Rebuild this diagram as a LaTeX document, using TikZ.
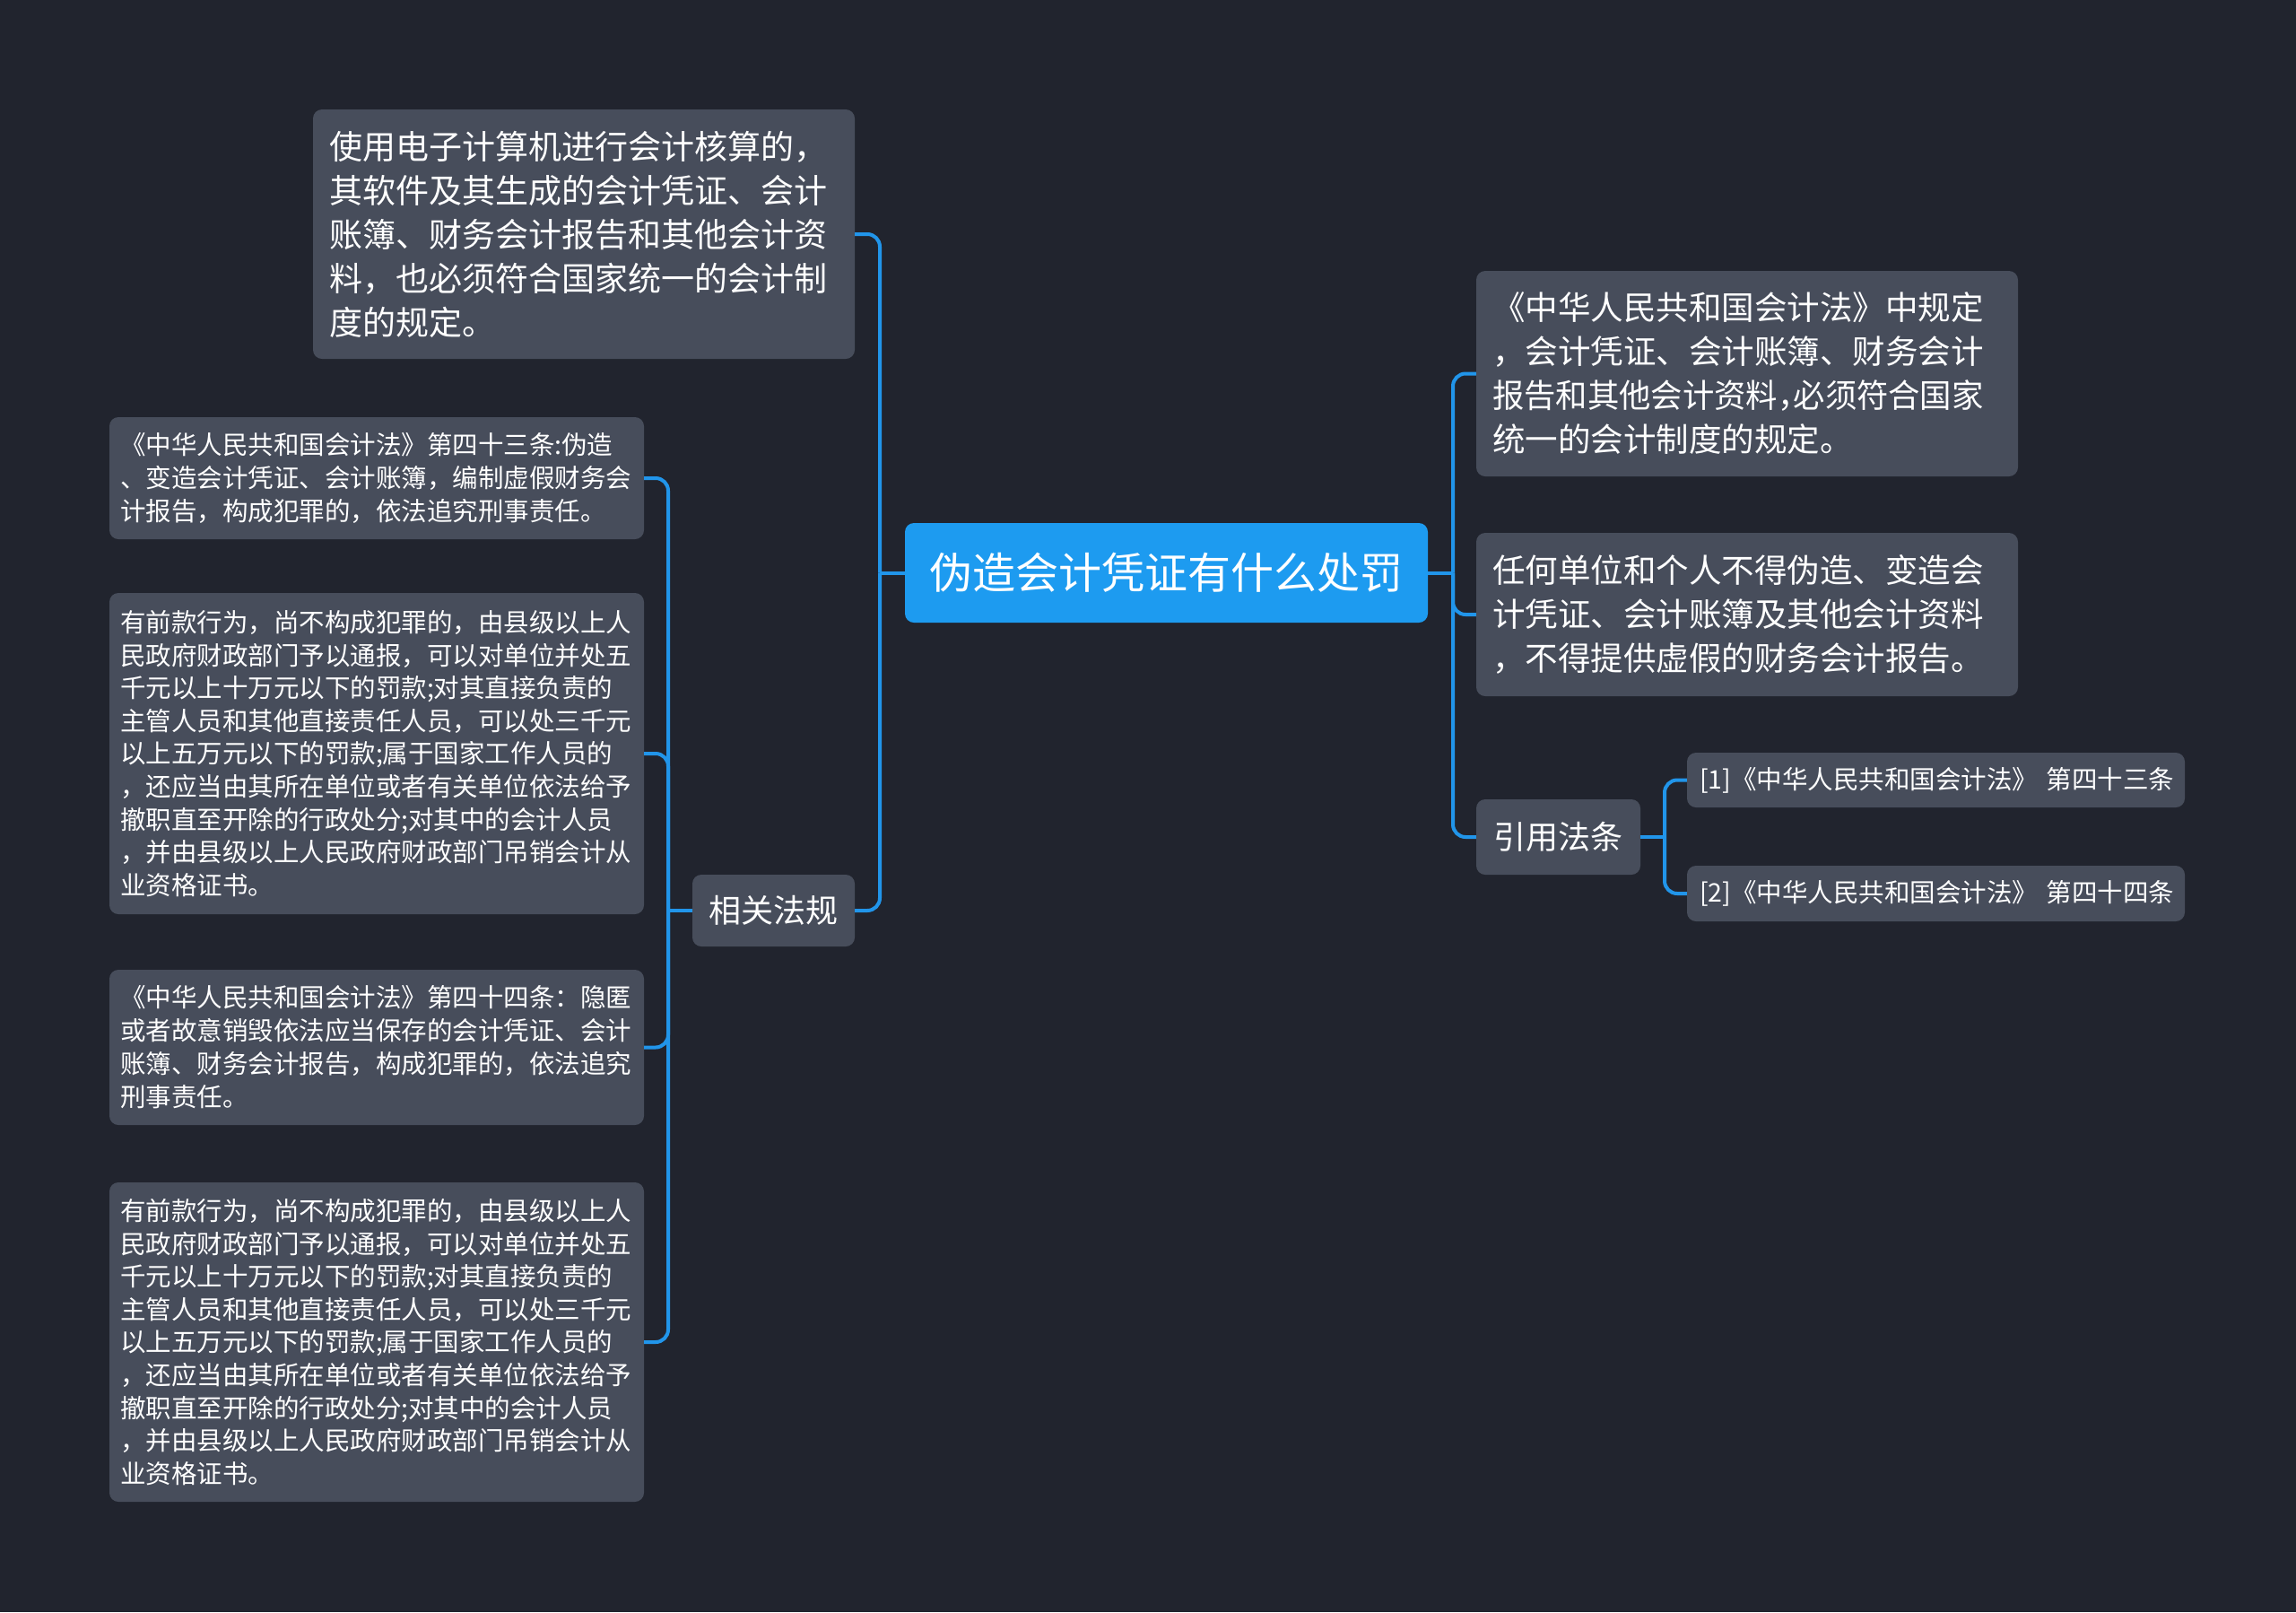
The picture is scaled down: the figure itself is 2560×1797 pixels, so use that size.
\documentclass[tikz,border=0pt]{standalone}
\usepackage{fontspec}
\usepackage{graphicx}
\setmainfont{Noto Sans CJK SC}
\definecolor{bgc}{HTML}{21242E}
\definecolor{boxc}{HTML}{474D5B}
\definecolor{rootc}{HTML}{1D9BF0}
\definecolor{linec}{HTML}{2195EA}
\newcommand{\halfcomma}{\makebox[0.5em][l]{，}}
\begin{document}
\begin{tikzpicture}[x=1pt,y=-1pt,
  box/.style={fill=boxc, rounded corners=10pt, text=white, align=left, inner ysep=0pt, anchor=center},
  rootbox/.style={fill=rootc, rounded corners=10pt, text=white, align=center, inner sep=0pt, anchor=center},
  conn/.style={draw=linec, line width=4pt, rounded corners=14pt}]
\useasboundingbox[fill=bgc] (0,0) rectangle (2560,1797);

% root
\node[rootbox, minimum width=583pt, minimum height=111pt, font=\fontsize{48}{56}\selectfont] (root) at (1300.5,638.5) {伪造会计凭证有什么处罚};

% left side
\node[box, minimum width=604pt, minimum height=278pt, inner xsep=18pt, text width=568pt, font=\fontsize{37}{49}\selectfont] (L0) at (651,261)
{使用电子计算机进行会计核算的，\\其软件及其生成的会计凭证、会计\\账簿、财务会计报告和其他会计资\\料，也必须符合国家统一的会计制\\度的规定。};

\node[box, minimum width=181pt, minimum height=80pt, inner xsep=0pt, align=center, font=\fontsize{36}{44}\selectfont] (XG) at (862.5,1015) {相关法规};

\node[box, minimum width=596pt, minimum height=136pt, inner xsep=12pt, text width=572pt, font=\fontsize{28.5}{37}\selectfont] (LC1) at (420,533)
{《中华人民共和国会计法》第四十三条:伪造\\、变造会计凭证、会计账簿，编制虚假财务会\\计报告，构成犯罪的，依法追究刑事责任。};

\node[box, minimum width=596pt, minimum height=358pt, inner xsep=12pt, text width=572pt, font=\fontsize{28.5}{36.6}\selectfont] (LC2) at (420,840)
{有前款行为，尚不构成犯罪的，由县级以上人\\民政府财政部门予以通报，可以对单位并处五\\千元以上十万元以下的罚款;对其直接负责的\\主管人员和其他直接责任人员，可以处三千元\\以上五万元以下的罚款;属于国家工作人员的\\，还应当由其所在单位或者有关单位依法给予\\撤职直至开除的行政处分;对其中的会计人员\\，并由县级以上人民政府财政部门吊销会计从\\业资格证书。};

\node[box, minimum width=596pt, minimum height=173pt, inner xsep=12pt, text width=572pt, font=\fontsize{28.5}{37}\selectfont] (LC3) at (420,1167.5)
{《中华人民共和国会计法》第四十四条：隐匿\\或者故意销毁依法应当保存的会计凭证、会计\\账簿、财务会计报告，构成犯罪的，依法追究\\刑事责任。};

\node[box, minimum width=596pt, minimum height=356pt, inner xsep=12pt, text width=572pt, font=\fontsize{28.5}{36.6}\selectfont] (LC4) at (420,1496)
{有前款行为，尚不构成犯罪的，由县级以上人\\民政府财政部门予以通报，可以对单位并处五\\千元以上十万元以下的罚款;对其直接负责的\\主管人员和其他直接责任人员，可以处三千元\\以上五万元以下的罚款;属于国家工作人员的\\，还应当由其所在单位或者有关单位依法给予\\撤职直至开除的行政处分;对其中的会计人员\\，并由县级以上人民政府财政部门吊销会计从\\业资格证书。};

% right side
\node[box, minimum width=604pt, minimum height=229pt, inner xsep=18pt, text width=568pt, font=\fontsize{36.5}{49}\selectfont] (R1) at (1948,416.5)
{《中华人民共和国会计法》中规定\\，会计凭证、会计账簿、财务会计\\\scalebox{0.968}[1]{报告和其他会计资料\halfcomma 必须符合国家}\\统一的会计制度的规定。};

\node[box, minimum width=604pt, minimum height=182pt, inner xsep=18pt, text width=568pt, font=\fontsize{36.5}{49}\selectfont] (R2) at (1948,685)
{任何单位和个人不得伪造、变造会\\计凭证、会计账簿及其他会计资料\\，不得提供虚假的财务会计报告。};

\node[box, minimum width=183pt, minimum height=84pt, inner xsep=0pt, align=center, font=\fontsize{36}{44}\selectfont] (YY) at (1737.5,933) {引用法条};

\node[box, minimum width=555pt, minimum height=61pt, inner xsep=14pt, text width=527pt, font=\fontsize{28.5}{34}\selectfont] (F1) at (2158.5,869.5)
{\mbox{[1]《中华人民共和国会计法》 第四十三条}};
\node[box, minimum width=555pt, minimum height=62pt, inner xsep=14pt, text width=527pt, font=\fontsize{28.5}{34}\selectfont] (F2) at (2158.5,996)
{\mbox{[2]《中华人民共和国会计法》 第四十四条}};

% junctions
\coordinate (jL) at (981,638.5);
\coordinate (jR) at (1620,638.5);
\coordinate (jX) at (745,1015);
\coordinate (jY) at (1856,933);

% connectors
\draw[conn] (root.west) -- (jL);
\draw[conn] (jL) -- (jL |- L0.east) -- (L0.east);
\draw[conn] (jL) -- (jL |- XG.east) -- (XG.east);

\draw[conn] (root.east) -- (jR);
\draw[conn] (jR) -- (jR |- R1.west) -- (R1.west);
\draw[conn] (jR) -- (jR |- R2.west) -- (R2.west);
\draw[conn] (jR) -- (jR |- YY.west) -- (YY.west);

\draw[conn] (XG.west) -- (jX);
\draw[conn] (jX) -- (jX |- LC1.east) -- (LC1.east);
\draw[conn] (jX) -- (jX |- LC2.east) -- (LC2.east);
\draw[conn] (jX) -- (jX |- LC3.east) -- (LC3.east);
\draw[conn] (jX) -- (jX |- LC4.east) -- (LC4.east);

\draw[conn] (YY.east) -- (jY);
\draw[conn] (jY) -- (jY |- F1.west) -- (F1.west);
\draw[conn] (jY) -- (jY |- F2.west) -- (F2.west);
\end{tikzpicture}
\end{document}
